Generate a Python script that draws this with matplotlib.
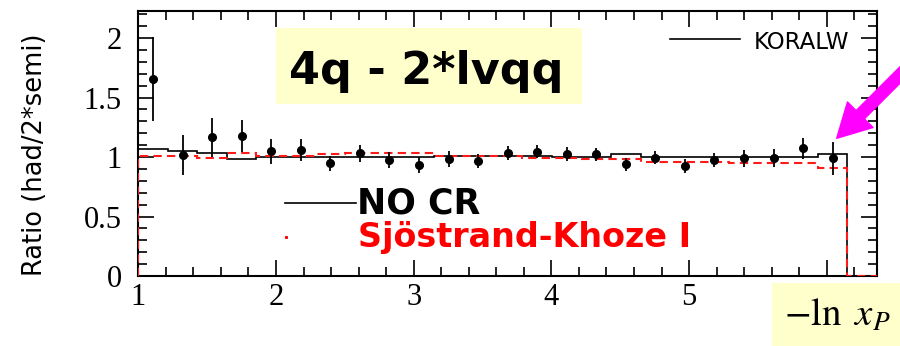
import numpy as np
import matplotlib
matplotlib.use("Agg")
import matplotlib.pyplot as plt
from matplotlib.patches import Rectangle
from matplotlib.ticker import MultipleLocator, FixedLocator, FixedFormatter

# ---- data ----
x_min, x_max, n_bins = 1.0, 6.365, 25
edges = np.linspace(x_min, x_max, n_bins + 1)

data_y = [1.655, 1.017, 1.166, 1.176, 1.050, 1.059, 0.947, 1.031, 0.975, 0.933,
          0.983, 0.969, 1.031, 1.045, 1.025, 1.023, 0.939, 0.994, 0.924, 0.975,
          0.989, 0.994, 1.073, 0.989]
data_err = [0.35, 0.165, 0.165, 0.135, 0.105, 0.09, 0.065, 0.07, 0.07, 0.065,
            0.065, 0.06, 0.06, 0.055, 0.055, 0.055, 0.055, 0.055, 0.06, 0.06,
            0.07, 0.075, 0.09, 0.14]

koralw = [1.065, 1.053, 1.031, 0.981, 0.997, 0.997, 0.997, 0.997, 0.997, 0.997,
          1.010, 1.010, 1.008, 1.005, 1.003, 1.000, 1.023, 1.000, 1.000, 1.000,
          1.000, 1.000, 1.000, 1.023, 0.0]
sk1 = [1.011, 1.011, 0.989, 1.031, 1.011, 1.011, 1.023, 1.031, 1.031, 1.031,
       1.011, 1.011, 1.011, 0.994, 0.994, 0.981, 0.981, 0.961, 0.961, 0.961,
       0.947, 0.947, 0.947, 0.910, 0.0]

yticks = [0, 0.5, 1, 1.5, 2]
ytick_labels = ["0", "0.5", "1", "1.5", "2"]
xticks = [1, 2, 3, 4, 5, 6]
xtick_labels = ["1", "2", "3", "4", "5", ""]   # the '6' is hidden under the label box

title_text = "4q - 2*lvqq"
ylabel_text = "Ratio (had/2*semi)"
legend_koralw = "KORALW"
legend_nocr = "NO CR"
legend_sk = "Sjöstrand-Khoze I"
xlabel_text = r"$-\ln\ x_P$"

plt.rcParams["mathtext.fontset"] = "stix"
plt.rcParams["font.family"] = ["Liberation Serif", "DejaVu Serif"]
plt.rcParams["xtick.labelsize"] = 22
plt.rcParams["ytick.labelsize"] = 22

# ---- figure ----
W, H = 900, 346
fig = plt.figure(figsize=(W / 100, H / 100), dpi=100)
ax_l, ax_r, ax_t, ax_b = 138.3, 877, 11, 276
ax = fig.add_axes([ax_l / W, 1 - ax_b / H, (ax_r - ax_l) / W, (ax_b - ax_t) / H])

ax.set_xlim(x_min, x_max)
ax.set_ylim(0, 2.227)

ax.stairs(koralw, edges, baseline=0, color="black", lw=1.2, zorder=3)
ax.stairs(sk1, edges, baseline=0, color="#ff1a1a", lw=1.5,
          linestyle=(0, (4, 2.5)), zorder=4)

centers = 0.5 * (edges[:-1] + edges[1:])[:len(data_y)]
ax.errorbar(centers, data_y, yerr=data_err, fmt="o", color="black", ms=5.5,
            elinewidth=1.3, capsize=0, zorder=5)

# ticks
ax.yaxis.set_major_locator(FixedLocator(yticks))
ax.yaxis.set_major_formatter(FixedFormatter(ytick_labels))
ax.yaxis.set_minor_locator(MultipleLocator(0.1))
ax.xaxis.set_major_locator(FixedLocator(xticks))
ax.xaxis.set_major_formatter(FixedFormatter(xtick_labels))
ax.xaxis.set_minor_locator(MultipleLocator(0.2))
ax.tick_params(which="both", direction="in", top=True, right=True, width=1.2)
ax.tick_params(which="major", length=11.5)
ax.tick_params(which="minor", length=6.5)
ax.tick_params(axis="y", pad=12)
ax.tick_params(axis="x", pad=5)
for s in ax.spines.values():
    s.set_linewidth(1.5)

def axc(px, py):
    return ((px - ax_l) / (ax_r - ax_l), (ax_b - py) / (ax_b - ax_t))

# title box
x0, y0 = axc(276, 104)
x1, y1 = axc(582, 28)
ax.add_patch(Rectangle((x0, y0), x1 - x0, y1 - y0, transform=ax.transAxes,
                       facecolor="#ffffcc", edgecolor="none", zorder=6))
tx, ty = axc(426.5, 84)
ax.text(tx, ty, title_text, transform=ax.transAxes, ha="center", va="baseline",
        fontsize=32, fontweight="bold", family="DejaVu Sans", zorder=7)

# KORALW legend
lx0, ly = axc(670, 39.3)
lx1, _ = axc(740, 39.3)
ax.plot([lx0, lx1], [ly, ly], transform=ax.transAxes, color="black", lw=1.2,
        zorder=7)
kx, ky = axc(754, 42.5)
ax.text(kx, ky, legend_koralw, transform=ax.transAxes, ha="left", va="center",
        fontsize=16.5, family="DejaVu Sans", zorder=7)

# NO CR / SK-I labels
nx0, ny = axc(285, 203.3)
nx1, _ = axc(356, 203.3)
ax.plot([nx0, nx1], [ny, ny], transform=ax.transAxes, color="black", lw=1.2,
        zorder=7)
ntx, nty = axc(357.3, 203.3)
ax.text(ntx, nty, legend_nocr, transform=ax.transAxes, ha="left", va="center",
        fontsize=25, fontweight="bold", family="DejaVu Sans", zorder=7)
dx, dy = axc(286, 236.7)
ax.plot([dx], [dy], transform=ax.transAxes, marker="s", ms=1.2, color="red",
        zorder=7)
sx, sy = axc(358, 246.7)
ax.text(sx, sy, legend_sk, transform=ax.transAxes, ha="left", va="baseline",
        fontsize=24, fontweight="bold", family="DejaVu Sans", color="#ff0000",
        zorder=7)

# y label
fig.text(35 / W, 1 - 154.5 / H, ylabel_text, rotation=90, ha="center",
         va="center", fontsize=18.5, family="DejaVu Sans")

# x label box
bx0 = 771.7
ax.add_patch(Rectangle((bx0 / W, 0), 1 - bx0 / W, (H - 283.3) / H,
                       transform=fig.transFigure, facecolor="#ffffcc",
                       edgecolor="none", zorder=20, clip_on=False))
fig.text(837 / W, 1 - 316 / H, xlabel_text, ha="center", va="center",
         fontsize=28, zorder=21)

# magenta arrow
ax.annotate("", xy=(836.7, H - 138.3), xytext=(918, H - 138.3 + 81.3),
            xycoords="figure pixels", textcoords="figure pixels",
            arrowprops=dict(arrowstyle="simple,head_length=1.2,head_width=1.3,tail_width=0.42",
                            color="#ff00ff", mutation_scale=20, shrinkA=0,
                            shrinkB=0),
            annotation_clip=False, zorder=22)

fig.savefig("out.png", dpi=100)
